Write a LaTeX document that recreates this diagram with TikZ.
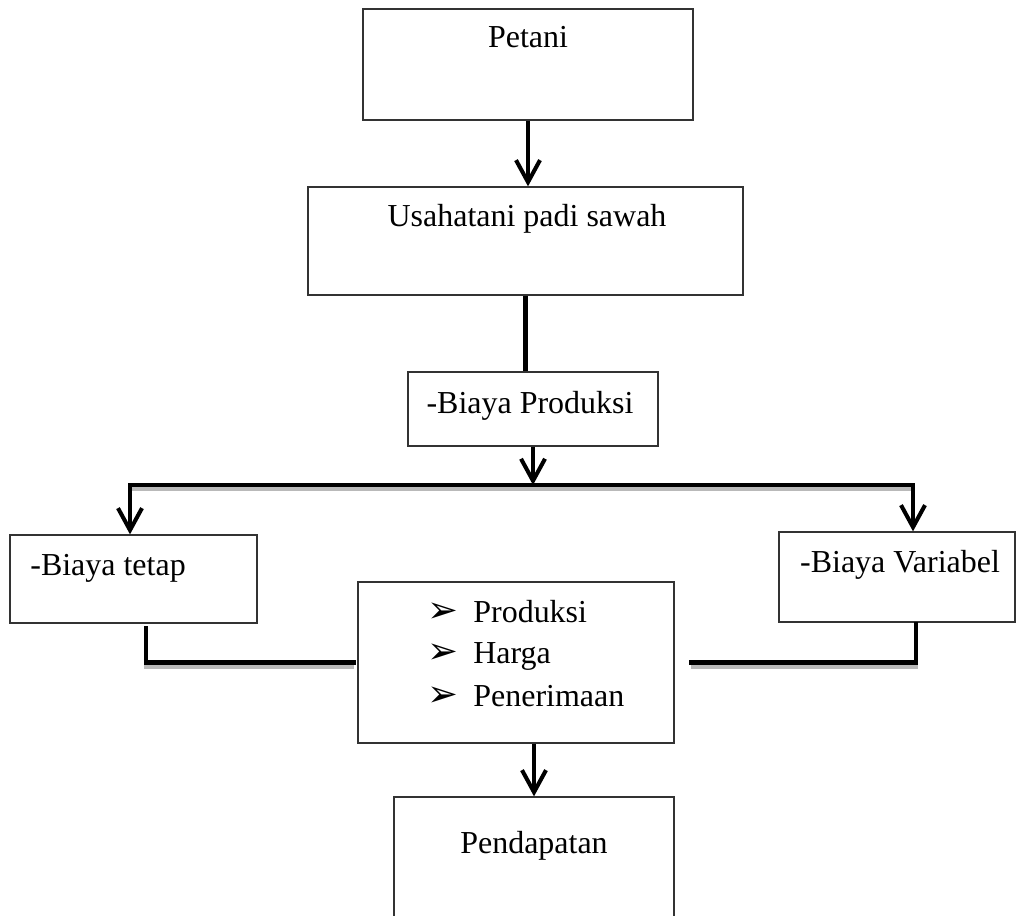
\documentclass[tikz,border=0pt]{standalone}
\usepackage{fontspec}
\setmainfont{Liberation Serif}
\newfontfamily\panahfont{DejaVu Sans}
\usetikzlibrary{arrows.meta,positioning}

\tikzset{
	kotak/.style={rectangle, draw=black!80, line width=0.75pt, inner sep=0pt},
	teks/.style={font=\fontsize{18.2}{22}\selectfont, inner sep=0pt, anchor=base},
	panah/.style={line width=2.3pt, -{Straight Barb[length=0.44cm, width=0.48cm]}},
	garis/.style={line width=2.3pt},
	bayang/.style={line width=2.3pt, line cap=rect, preaction={draw=gray!55, line width=2.3pt, transform canvas={yshift=-0.08cm}}}
}

\begin{document}
\begin{tikzpicture}[x=0.02cm, y=-0.02cm]
	\useasboundingbox (0,0) rectangle (1016,915);
	\clip (0,0) rectangle (1016,915);
	% kotak
	\node[kotak, minimum width=6.6cm, minimum height=2.22cm](petani) at (528,64.5){};
	\node[kotak, minimum width=8.7cm, minimum height=2.16cm](usaha) at (525.5,241){};
	\node[kotak, minimum width=5cm, minimum height=1.48cm](produksi) at (533,409){};
	\node[kotak, minimum width=4.94cm, minimum height=1.76cm](tetap) at (133.5,579){};
	\node[kotak, minimum width=4.72cm, minimum height=1.8cm](variabel) at (897,577){};
	\node[kotak, minimum width=6.32cm, minimum height=3.22cm](hasil) at (516,662.5){};
	\node[kotak, minimum width=5.6cm, minimum height=2.96cm](pendapatan) at (534,871){};
	% teks
	\node[teks](petanilbl) at (528,48){Petani};
	\node[teks](usahalbl) at (527,227){Usahatani padi sawah};
	\node[teks](produksilbl) at (530,413){-Biaya Produksi};
	\node[teks, anchor=base west](tetaplbl) at (30,575){-Biaya tetap};
	\node[teks](variabellbl) at (900,572){-Biaya Variabel};
	\node[teks](pendapatanlbl) at (534,853){Pendapatan};
	\node[teks, anchor=base west](item1) at (427,622){\makebox[0.92cm][l]{\panahfont\fontsize{21}{22}\selectfont ➢}Produksi};
	\node[teks, anchor=base west](item2) at (427,663){\makebox[0.92cm][l]{\panahfont\fontsize{21}{22}\selectfont ➢}Harga};
	\node[teks, anchor=base west](item3) at (427,706){\makebox[0.92cm][l]{\panahfont\fontsize{21}{22}\selectfont ➢}Penerimaan};
	% titik bantu
	\coordinate (busl) at (130,485);
	\coordinate (busr) at (913,485);
	\coordinate (kiri) at (146,662);
	\coordinate (kanan) at (916,660);
	% garis
	\draw [panah] (petani.south) -- (petani.south |- usaha.north);
	\draw [garis] (usaha.south) -- (usaha.south |- produksi.north);
	\draw [panah] (produksi.south) -- (produksi.south |- busl);
	\draw [bayang] (busl) -- (busr);
	\draw [panah] (busl) -- (busl |- tetap.north);
	\draw [panah] (busr) -- (busr |- variabel.north);
	\draw [bayang] ([yshift=-0.08cm]tetap.south -| kiri) |- ([xshift=-0.06cm]hasil.west);
	\draw [bayang] ([xshift=0.32cm]hasil.east) -| ([yshift=-0.02cm]kanan |- variabel.south);
	\draw [panah] (pendapatan.north |- hasil.south) -- (pendapatan.north);
\end{tikzpicture}
\end{document}
